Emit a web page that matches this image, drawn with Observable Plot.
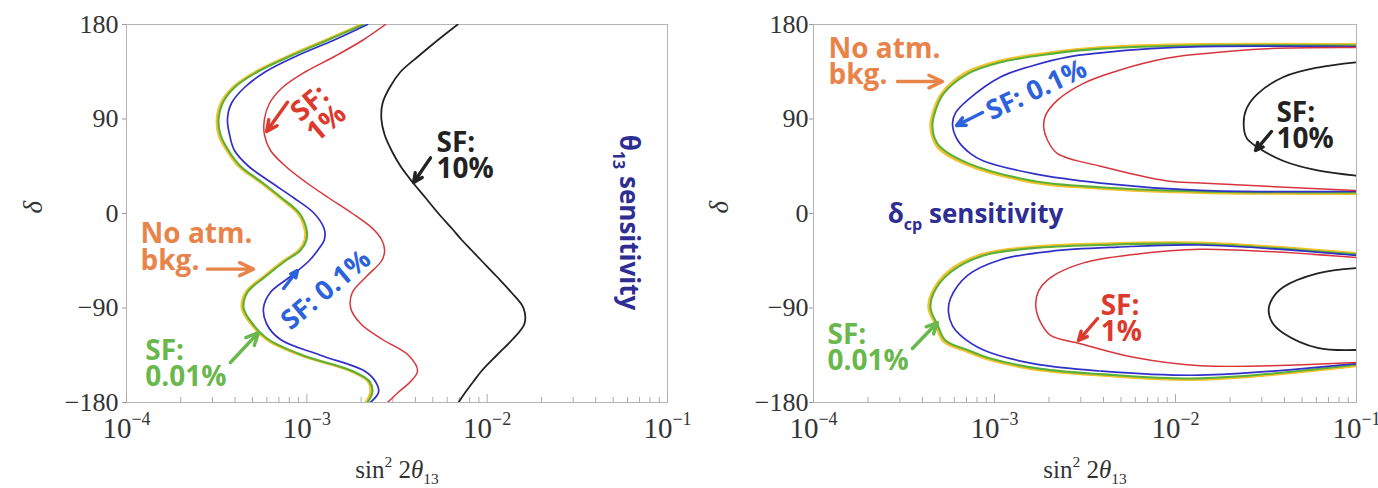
<!DOCTYPE html>
<html>
<head>
<meta charset="utf-8">
<script src="https://cdn.jsdelivr.net/npm/d3@7"></script>
<script src="https://cdn.jsdelivr.net/npm/@observablehq/plot@0.6"></script>
<style>
  body { margin: 0; background: #fff; }
  #wrap { position: relative; width: 1378px; height: 488px; overflow: hidden; }
  #left, #right { position: absolute; top: 0; }
  #left { left: 0; }
  #right { left: 689px; }
</style>
</head>
<body>
<div id="wrap"><div id="left"></div><div id="right"></div></div>
<script>
// ---------- axes ----------
const yTicks = [-180, -90, 0, 90, 180];
const xDecades = [1e-4, 1e-3, 1e-2, 1e-1];
const xDecadeLabels = ["10^{−4}", "10^{−3}", "10^{−2}", "10^{−1}"];
const xMinor = [2e-4, 3e-4, 4e-4, 5e-4, 6e-4, 7e-4, 8e-4, 9e-4,
                2e-3, 3e-3, 4e-3, 5e-3, 6e-3, 7e-3, 8e-3, 9e-3,
                2e-2, 3e-2, 4e-2, 5e-2, 6e-2, 7e-2, 8e-2, 9e-2];
const xTitle = "sin^{2} 2*{θ}_{13}";
const yTitle = "δ";

// ---------- left panel (θ13 sensitivity): sin²2θ13 vs δ ----------
const leftDelta = [180, 165, 150, 135, 120, 105, 90, 75, 60, 45, 30, 15, 0, -15, -25, -35, -45, -60, -75, -90, -105, -120, -135, -150, -160, -170, -180];
const leftNoAtm = [2.02e-3, 1.27e-3, 7.95e-4, 5.22e-4, 3.89e-4, 3.34e-4, 3.18e-4, 3.25e-4, 3.61e-4, 4.20e-4, 5.50e-4, 7.10e-4, 8.94e-4, 9.76e-4, 9.76e-4, 9.05e-4, 7.47e-4, 5.78e-4, 4.60e-4, 4.37e-4, 4.90e-4, 6.01e-4, 9.28e-4, 1.75e-3, 2.19e-3, 2.26e-3, 2.13e-3];
const leftSF001 = [2.06e-3, 1.30e-3, 8.12e-4, 5.33e-4, 3.97e-4, 3.41e-4, 3.24e-4, 3.32e-4, 3.68e-4, 4.29e-4, 5.61e-4, 7.24e-4, 9.12e-4, 9.96e-4, 9.96e-4, 9.23e-4, 7.62e-4, 5.90e-4, 4.69e-4, 4.46e-4, 5.00e-4, 6.13e-4, 9.47e-4, 1.79e-3, 2.23e-3, 2.31e-3, 2.17e-3];
const leftSF01 = [2.17e-3, 1.41e-3, 8.77e-4, 5.90e-4, 4.51e-4, 3.82e-4, 3.63e-4, 3.73e-4, 3.97e-4, 4.75e-4, 6.29e-4, 8.44e-4, 1.10e-3, 1.25e-3, 1.25e-3, 1.15e-3, 1.03e-3, 8.12e-4, 6.29e-4, 5.75e-4, 5.98e-4, 7.14e-4, 1.19e-3, 2.09e-3, 2.40e-3, 2.50e-3, 2.25e-3];
const leftSF1 = [2.73e-3, 2.04e-3, 1.44e-3, 9.84e-4, 7.33e-4, 6.21e-4, 5.82e-4, 5.82e-4, 6.29e-4, 7.62e-4, 9.84e-4, 1.32e-3, 1.79e-3, 2.34e-3, 2.60e-3, 2.70e-3, 2.60e-3, 2.14e-3, 1.79e-3, 1.75e-3, 1.99e-3, 2.63e-3, 3.66e-3, 4.11e-3, 3.76e-3, 3.23e-3, 2.80e-3];
const leftSF10 = [6.86e-3, 5.31e-3, 4.17e-3, 3.31e-3, 2.88e-3, 2.63e-3, 2.59e-3, 2.70e-3, 2.95e-3, 3.31e-3, 3.85e-3, 4.55e-3, 5.37e-3, 6.43e-3, 7.21e-3, 8.19e-3, 9.31e-3, 1.13e-2, 1.36e-2, 1.59e-2, 1.61e-2, 1.38e-2, 1.13e-2, 9.31e-3, 8.39e-3, 7.59e-3, 6.93e-3];

// ---------- right panel (δcp sensitivity): closed contours, upper (δ>0) and lower (δ<0) ----------
const rNoAtmUpD = [161, 161, 158, 153, 145, 134, 114, 98, 84, 72, 62, 47, 30, 24, 20, 19];
const rNoAtmUpX = [0.1, 1.35e-2, 3.80e-3, 2.00e-3, 1.05e-3, 6.92e-4, 5.10e-4, 4.61e-4, 4.44e-4, 4.56e-4, 4.92e-4, 6.95e-4, 1.60e-3, 3.80e-3, 1.35e-2, 0.1];
const rSF001UpD = [160, 160, 157, 152, 144, 133, 114, 98, 84, 72, 63, 48, 31, 25, 21, 20];
const rSF001UpX = [0.1, 1.37e-2, 3.86e-3, 2.04e-3, 1.08e-3, 7.10e-4, 5.22e-4, 4.72e-4, 4.54e-4, 4.66e-4, 5.03e-4, 7.10e-4, 1.64e-3, 3.86e-3, 1.37e-2, 0.1];
const rSF01UpD = [159, 159, 157, 153, 149, 141, 130, 108, 96, 85, 70, 57, 50, 38, 29, 22, 21];
const rSF01UpX = [0.1, 1.37e-2, 7.28e-3, 3.86e-3, 2.53e-3, 1.64e-3, 1.08e-3, 7.10e-4, 6.10e-4, 5.86e-4, 6.25e-4, 7.37e-4, 8.70e-4, 1.64e-3, 3.86e-3, 1.37e-2, 0.1];
const rSF1UpD = [158, 157, 152, 148, 136, 124, 108, 93, 82, 70, 57, 45, 31, 29, 22];
const rSF1UpX = [0.1, 3.22e-2, 1.37e-2, 9.03e-3, 4.79e-3, 3.10e-3, 2.23e-3, 1.91e-3, 1.87e-3, 1.96e-3, 2.23e-3, 3.86e-3, 9.03e-3, 1.37e-2, 0.1];
const rSF10UpD = [144, 139, 130, 114, 100, 86, 72, 63, 50, 41, 36];
const rSF10UpX = [0.1, 6.10e-2, 3.95e-2, 2.84e-2, 2.47e-2, 2.38e-2, 2.47e-2, 2.84e-2, 3.95e-2, 6.10e-2, 0.1];

const rNoAtmLoD = [-38, -28, -29, -32, -39, -55, -76, -90, -106, -122, -131, -139, -149, -154, -158, -145];
const rNoAtmLoX = [0.1, 1.35e-2, 3.80e-3, 1.60e-3, 8.50e-4, 5.58e-4, 4.50e-4, 4.33e-4, 4.73e-4, 5.25e-4, 6.95e-4, 9.30e-4, 1.76e-3, 3.80e-3, 1.35e-2, 0.1];
const rSF001LoD = [-39, -29, -30, -33, -40, -56, -76, -90, -106, -121, -130, -138, -148, -153, -157, -144];
const rSF001LoX = [0.1, 1.37e-2, 3.86e-3, 1.64e-3, 8.70e-4, 5.71e-4, 4.60e-4, 4.43e-4, 4.84e-4, 5.36e-4, 7.10e-4, 9.50e-4, 1.80e-3, 3.86e-3, 1.37e-2, 0.1];
const rSF01LoD = [-40, -30, -32, -36, -44, -59, -81, -94, -107, -116, -130, -143, -150, -154, -143];
const rSF01LoX = [0.1, 1.37e-2, 4.79e-3, 2.04e-3, 1.08e-3, 7.10e-4, 5.71e-4, 5.57e-4, 5.86e-4, 6.49e-4, 8.70e-4, 1.64e-3, 3.86e-3, 1.37e-2, 0.1];
const rSF1LoD = [-42, -34, -39, -47, -61, -74, -88, -104, -116, -124, -137, -145, -142];
const rSF1LoX = [0.1, 1.37e-2, 5.86e-3, 3.10e-3, 2.04e-3, 1.75e-3, 1.69e-3, 1.80e-3, 2.04e-3, 2.98e-3, 5.86e-3, 1.37e-2, 0.1];
const rSF10LoD = [-52, -57, -70, -81, -92, -104, -114, -128, -130];
const rSF10LoX = [0.1, 6.10e-2, 3.95e-2, 3.43e-2, 3.27e-2, 3.43e-2, 3.95e-2, 6.10e-2, 0.1];

// ---------- colours ----------
const cRed = "#d8353b", cRedT = "#dc3a2c";
const cBlue = "#3030c8", cBlueT = "#2c62dc";
const cGreen = "#5cb038", cGreenT = "#69b84b";
const cYellow = "#f3c22f", cBlack = "#222222", cOrange = "#e8844a", cNavy = "#2d2d92";

// ---------- annotations (data coordinates) ----------
const leftLabels = [
  {text: "SF:\n1%", x: 1.16e-3, d: 95, color: cRedT, rotate: -40, anchor: "middle", size: 28},
  {text: "SF:\n10%", x: 5.24e-3, d: 54, color: cBlack, rotate: 0, anchor: "start", size: 28},
  {text: "No atm.\nbkg.", x: 1.196e-4, d: -33, color: cOrange, rotate: 0, anchor: "start", size: 28},
  {text: "SF: 0.1%", x: 1.285e-3, d: -73.3, color: cBlueT, rotate: -40, anchor: "middle", size: 27},
  {text: "SF:\n0.01%", x: 1.27e-4, d: -144.3, color: cGreenT, rotate: 0, anchor: "start", size: 28},
  {text: "θ_{13} sensitivity", x: 6.01e-2, d: -8.6, color: cNavy, rotate: 90, anchor: "middle", size: 26}
];
const leftArrows = [
  {x1: 7.81e-4, d1: 106, x2: 5.98e-4, d2: 78, color: cRedT},
  {x1: 4.85e-3, d1: 53, x2: 3.91e-3, d2: 29.5, color: cBlack},
  {x1: 2.81e-4, d1: -53, x2: 5.06e-4, d2: -53, color: cOrange},
  {x1: 7.43e-4, d1: -71.4, x2: 8.87e-4, d2: -54.3, color: cBlueT},
  {x1: 3.77e-4, d1: -141.9, x2: 5.40e-4, d2: -113.3, color: cGreenT}
];
const rightLabels = [
  {text: "No atm.\nbkg.", x: 1.21e-4, d: 143.3, color: cOrange, rotate: 0, anchor: "start", size: 28},
  {text: "SF: 0.1%", x: 1.71e-3, d: 117.1, color: cBlueT, rotate: -25, anchor: "middle", size: 27},
  {text: "SF:\n10%", x: 3.61e-2, d: 82.4, color: cBlack, rotate: 0, anchor: "start", size: 28},
  {text: "SF:\n1%", x: 3.86e-3, d: -101.4, color: cRedT, rotate: 0, anchor: "start", size: 28},
  {text: "SF:\n0.01%", x: 1.195e-4, d: -129, color: cGreenT, rotate: 0, anchor: "start", size: 28},
  {text: "δ_{cp} sensitivity", x: 7.85e-4, d: -1.9, color: cNavy, rotate: 0, anchor: "middle", size: 26}
];
const rightArrows = [
  {x1: 2.91e-4, d1: 125.7, x2: 5.16e-4, d2: 125.7, color: cOrange},
  {x1: 8.59e-4, d1: 96.2, x2: 6.17e-4, d2: 83.8, color: cBlueT},
  {x1: 3.39e-2, d1: 78.1, x2: 2.77e-2, d2: 60, color: cBlack},
  {x1: 3.71e-3, d1: -100, x2: 2.91e-3, d2: -121, color: cRedT},
  {x1: 3.52e-4, d1: -128.6, x2: 4.84e-4, d2: -103.8, color: cGreenT}
];

// ---------- helpers ----------
const rows = (xs, ds) => xs.map((x, i) => ({x, d: ds[i]}));
const fmtY = d => d < 0 ? "−" + (-d) : String(d);

function richify(svg) {
  svg.querySelectorAll("text").forEach(t => {
    if (t.querySelector("tspan")) return;
    const s = t.textContent;
    if (!/[\^_*]\{/.test(s)) return;
    const fs = parseFloat(getComputedStyle(t).fontSize);
    const parts = s.split(/([\^_*]\{[^}]*\})/).filter(p => p.length);
    t.textContent = "";
    let off = 0;
    for (const p of parts) {
      const m = p.match(/^([\^_*])\{([^}]*)\}$/);
      const ts = document.createElementNS("http://www.w3.org/2000/svg", "tspan");
      let target = 0, size = null, italic = false, txt = p;
      if (m) {
        txt = m[2];
        if (m[1] === "^") { target = -0.42 * fs; size = 0.62 * fs; }
        else if (m[1] === "_") { target = 0.26 * fs; size = 0.62 * fs; }
        else italic = true;
      }
      if (target !== off) ts.setAttribute("dy", target - off);
      off = target;
      if (size) ts.setAttribute("font-size", size);
      if (italic) ts.setAttribute("font-style", "italic");
      ts.textContent = txt;
      t.appendChild(ts);
    }
  });
}

function panel({marginLeft, tickPadding, yLabelDx, lines, labels, arrows}) {
  const marks = [
    Plot.frame({stroke: "#b4b4b4"}),
    Plot.tickX(xMinor, {x: d => d, insetTop: 373, stroke: "#aaa"}),
    Plot.tickX(xDecades, {x: d => d, insetTop: 370, stroke: "#aaa"}),
    Plot.axisY({ticks: yTicks, tickSize: 4, tickPadding, tickFormat: fmtY, label: null}),
    Plot.text(xDecadeLabels, {x: (d, i) => xDecades[i], text: d => d, frameAnchor: "bottom", lineAnchor: "bottom", dy: 35, fontSize: 29}),
    Plot.text([xTitle], {text: d => d, frameAnchor: "bottom", lineAnchor: "bottom", dy: 75, fontSize: 25}),
    Plot.text([yTitle], {text: d => d, frameAnchor: "left", dx: yLabelDx, rotate: -90, fontStyle: "italic", fontSize: 27}),
    ...lines.map(l => Plot.line(rows(l.x, l.d), {x: "x", y: "d", stroke: l.color, strokeWidth: l.w, curve: "catmull-rom", clip: true})),
    Plot.arrow(arrows, {x1: "x1", y1: "d1", x2: "x2", y2: "d2", stroke: d => d.color, strokeWidth: 3.4, headLength: 11, headAngle: 50}),
    ...labels.map(l => Plot.text([l], {
      x: "x", y: "d", text: "text", fill: l.color, rotate: l.rotate, textAnchor: l.anchor,
      lineAnchor: "middle", fontSize: l.size, fontWeight: "bold", fontFamily: "Open Sans", lineHeight: 0.93
    }))
  ];
  return Plot.plot({
    width: 689, height: 488,
    marginLeft, marginRight: 22, marginTop: 24, marginBottom: 86,
    x: {type: "log", domain: [1e-4, 1e-1], axis: null, label: null},
    y: {domain: [-180, 180], axis: null, label: null},
    color: {type: "identity"},
    style: {fontFamily: "Liberation Serif", fontSize: "26px", color: "#333", background: "transparent", overflow: "visible"},
    marks
  });
}

const leftLines = [
  {x: leftNoAtm, d: leftDelta, color: cYellow, w: 2.8},
  {x: leftSF001, d: leftDelta, color: cGreen, w: 2.1},
  {x: leftSF01, d: leftDelta, color: cBlue, w: 1.7},
  {x: leftSF1, d: leftDelta, color: cRed, w: 1.5},
  {x: leftSF10, d: leftDelta, color: cBlack, w: 1.8}
];
const rightLines = [
  {x: rNoAtmUpX, d: rNoAtmUpD, color: cYellow, w: 2.8},
  {x: rNoAtmLoX, d: rNoAtmLoD, color: cYellow, w: 2.8},
  {x: rSF001UpX, d: rSF001UpD, color: cGreen, w: 2.1},
  {x: rSF001LoX, d: rSF001LoD, color: cGreen, w: 2.1},
  {x: rSF01UpX, d: rSF01UpD, color: cBlue, w: 1.7},
  {x: rSF01LoX, d: rSF01LoD, color: cBlue, w: 1.7},
  {x: rSF1UpX, d: rSF1UpD, color: cRed, w: 1.5},
  {x: rSF1LoX, d: rSF1LoD, color: cRed, w: 1.5},
  {x: rSF10UpX, d: rSF10UpD, color: cBlack, w: 1.8},
  {x: rSF10LoX, d: rSF10LoD, color: cBlack, w: 1.8}
];

const left = panel({marginLeft: 126, tickPadding: 4, yLabelDx: -93, lines: leftLines, labels: leftLabels, arrows: leftArrows});
const right = panel({marginLeft: 124, tickPadding: 1, yLabelDx: -94, lines: rightLines, labels: rightLabels, arrows: rightArrows});
document.getElementById("left").appendChild(left);
document.getElementById("right").appendChild(right);
for (const svg of [left, right]) {
  richify(svg);
  svg.querySelectorAll('g[aria-label="y-axis tick"]').forEach(g => g.setAttribute("stroke", "#999"));
}
</script>
</body>
</html>
